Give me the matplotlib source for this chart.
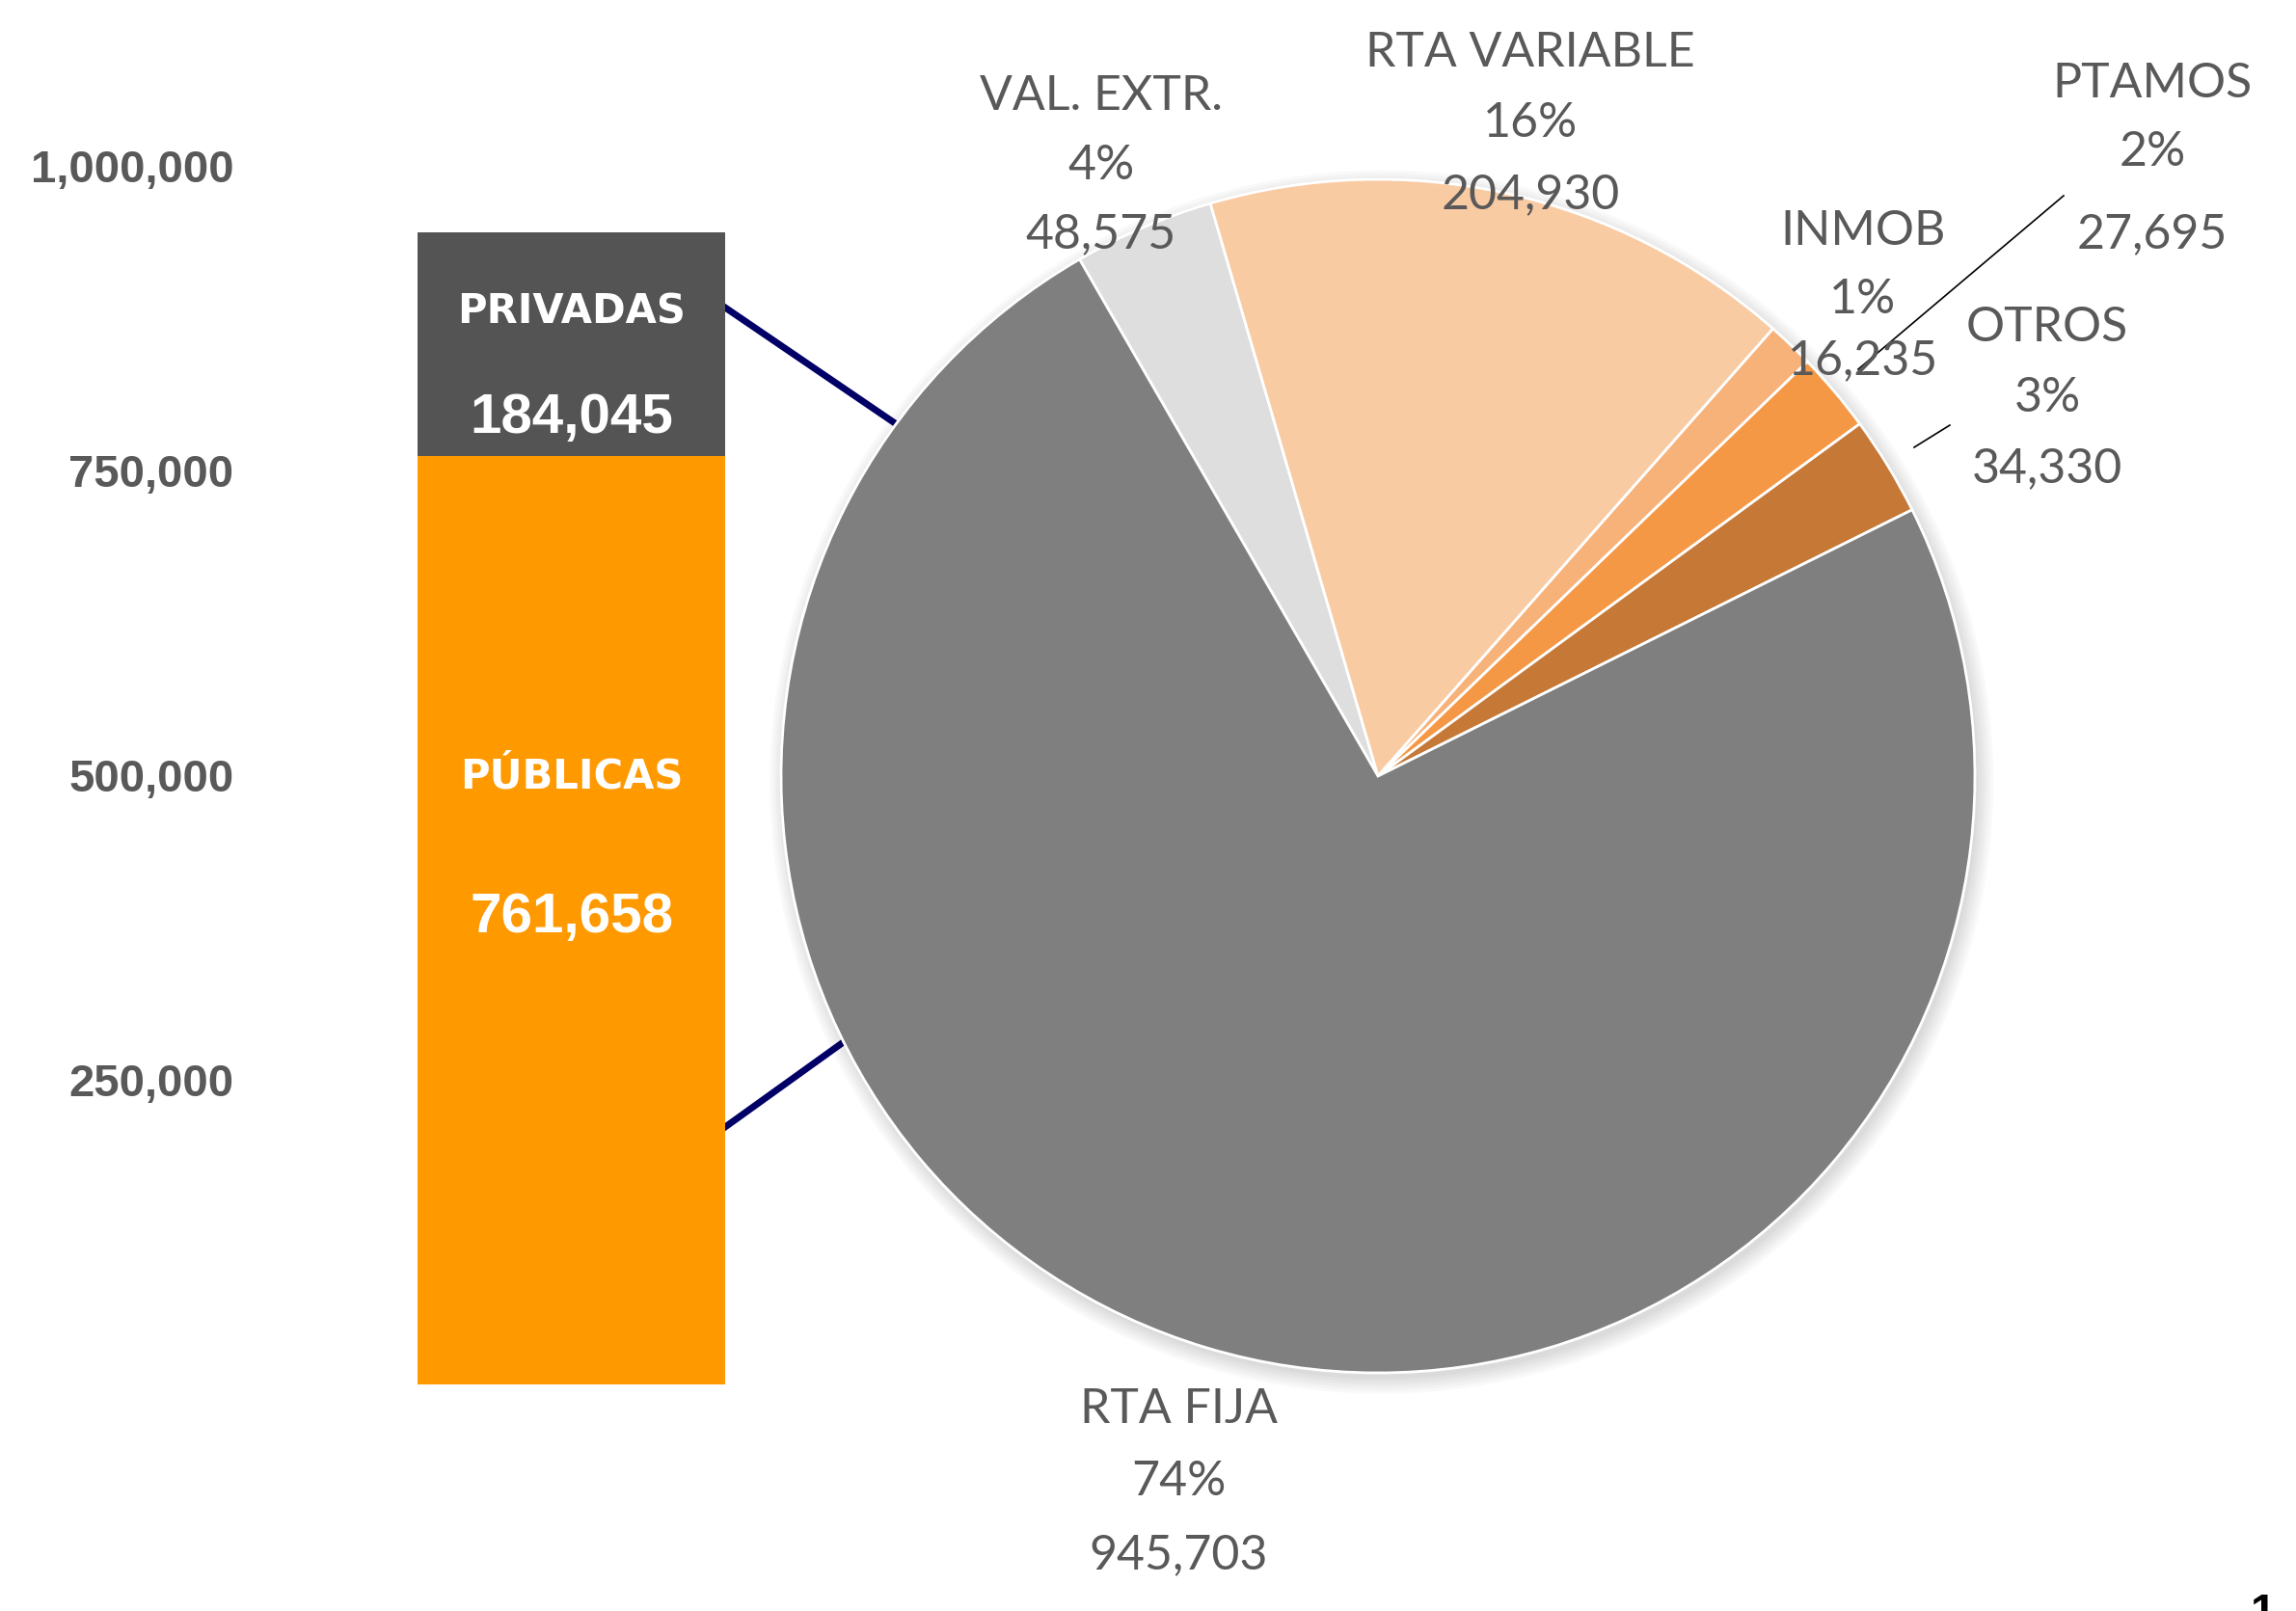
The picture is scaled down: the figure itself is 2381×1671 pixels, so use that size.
import numpy as np
import matplotlib
matplotlib.use("Agg")
import matplotlib.pyplot as plt
from matplotlib.lines import Line2D
from matplotlib.patches import Circle

# bar (origin of the pie)
bar_names = ["PÚBLICAS", "PRIVADAS"]
bar_values = [761658, 184045]
bar_colors = ["#ff9900", "#545454"]
yticks = [250000, 500000, 750000, 1000000]

# pie, clockwise from the top-left
pie_names = ["VAL. EXTR.", "RTA VARIABLE", "INMOB", "PTAMOS", "OTROS", "RTA FIJA"]
pie_values = [48575, 204930, 16235, 27695, 34330, 945703]
pie_colors = ["#dedede", "#f9cba3", "#f7b27a", "#f59845", "#c67837", "#7f7f7f"]

W, H = 2381, 1671
fig = plt.figure(figsize=(W / 100, H / 100), dpi=100)
gray_txt = "#595959"


def fx(x):
    return x / W


def fy(y):
    return 1 - y / H


# ---- stacked bar ----
zero_px, px_per_unit = 1436, 1264 / 1e6
left_px, right_px = 255, 770
ax = fig.add_axes([fx(left_px), 0, fx(right_px - left_px), 1])
ax.set_xlim(0, 1)
ax.set_ylim(-(H - zero_px) / px_per_unit, zero_px / px_per_unit)
x0 = (433 - left_px) / (right_px - left_px)
x1 = (752 - left_px) / (right_px - left_px)
bottom = 0
for name, v, c in zip(bar_names, bar_values, bar_colors):
    ax.bar((x0 + x1) / 2, v, width=x1 - x0, bottom=bottom, color=c, linewidth=0)
    bottom += v
for s in ax.spines.values():
    s.set_visible(False)
ax.set_xticks([])
ax.set_yticks(yticks)
ax.set_yticklabels([f"{t:,}" for t in yticks], fontsize=34, fontweight="bold",
                   color=gray_txt, family="Liberation Sans")
ax.tick_params(axis="y", length=0, pad=9)
ax.patch.set_visible(False)

# labels inside bar
xc = (433 + 752) / 2
for name, v, yname, yval in [("PRIVADAS", 184045, 323, 434), ("PÚBLICAS", 761658, 806, 952)]:
    fig.text(fx(xc), fy(yname), name, ha="center", va="center", color="white",
             fontsize=30, fontweight="bold", family="DejaVu Sans")
    fig.text(fx(xc), fy(yval), f"{v:,}", ha="center", va="center", color="white",
             fontsize=42, fontweight="bold", family="Liberation Sans")

# connector lines (behind pie)
for (xa, ya), (xb, yb) in [((752, 319), (1050, 522)), ((752, 1169), (1050, 955))]:
    fig.add_artist(Line2D([fx(xa), fx(xb)], [fy(ya), fy(yb)], color="#000066",
                          lw=5, zorder=-1, transform=fig.transFigure))

# ---- pie ----
cx, cy, r = 1429, 805, 619
pax = fig.add_axes([fx(cx - r), fy(cy + r), fx(2 * r), 2 * r / H])
for rr in np.linspace(1.0, 1.025, 6):
    pax.add_patch(Circle((0.006, -0.01), rr, color="black", alpha=0.025, lw=0,
                         zorder=0, clip_on=False))
pax.pie(pie_values, colors=pie_colors, startangle=120, counterclock=False,
        wedgeprops=dict(edgecolor="white", linewidth=2))
pax.set_xlim(-1, 1)
pax.set_ylim(-1, 1)
pax.set_aspect("equal")
pax.axis("off")

total = sum(pie_values)
label_pos = {
    "VAL. EXTR.": (1142, [100, 172, 243]),
    "RTA VARIABLE": (1587, [55, 128, 202]),
    "INMOB": (1932, [240, 311, 374]),
    "PTAMOS": (2232, [87, 158, 243]),
    "OTROS": (2123, [340, 413, 486]),
    "RTA FIJA": (1222, [1462, 1537, 1613]),
}
for name, v in zip(pie_names, pie_values):
    x, ys = label_pos[name]
    lines = [name, f"{round(v / total * 100)}%", f"{v:,}"]
    for t, y in zip(lines, ys):
        fig.text(fx(x), fy(y), t, ha="center", va="center", color=gray_txt,
                 fontsize=36, family="Lato")

# leader lines
for (xa, ya), (xb, yb) in [((2140, 203), (1927, 383)), ((2022, 441), (1985, 464))]:
    fig.add_artist(Line2D([fx(xa), fx(xb)], [fy(ya), fy(yb)], color="black",
                          lw=1.2, transform=fig.transFigure))

# page number, cut at the edge as in the source slide
fig.text(fx(2347), fy(1652), "1", ha="center", va="top", fontsize=34,
         fontweight="bold", color="black", family="Liberation Sans")

fig.savefig("out.png", dpi=100)
